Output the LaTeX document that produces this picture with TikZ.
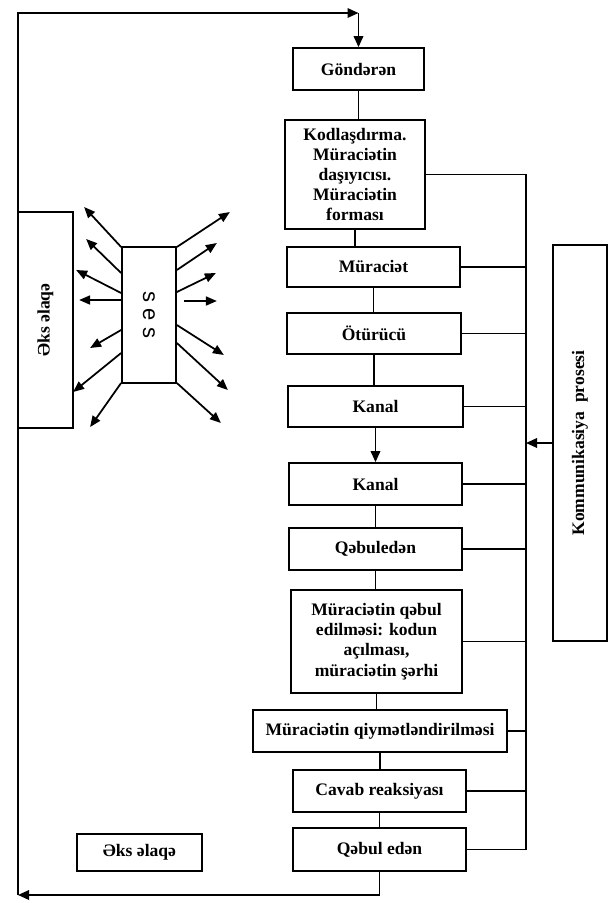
\documentclass[tikz,border=0pt]{standalone}
\usepackage{fontspec}
\setmainfont{Liberation Serif}
\setsansfont{Liberation Sans}
\usetikzlibrary{arrows.meta,calc}

\begin{document}
\begin{tikzpicture}[
  line width=1pt,
  >={Triangle[length=2.2mm,width=1.9mm]},
  box/.style={draw,minimum width=3.46cm,minimum height=.84cm,inner sep=2pt,align=center,font=\fontsize{10}{11.5}\selectfont\bfseries},
  sidebox/.style={box,rotate=90,minimum height=1.08cm},
  link/.style={->},
  ray/.style={-{Triangle[length=2.2mm,width=1.8mm]}}
]
  \useasboundingbox (0,0) rectangle (12.24,-18.06);

  \node[box,minimum width=2.62cm] (gond) at (7.17,-1.38) {Göndərən};
  \node[box,minimum width=2.80cm,minimum height=2.18cm] (kod) at (7.10,-3.49) {Kodlaşdırma.\\Müraciətin\\daşıyıcısı.\\Müraciətin\\forması};
  \node[box,minimum height=.80cm] (mur) at (7.47,-5.34) {Müraciət};
  \node[box,minimum width=3.48cm,minimum height=.82cm] (otur) at (7.48,-6.67) {Ötürücü};
  \node[box,minimum width=3.50cm,minimum height=.82cm] (kan1) at (7.51,-8.13) {Kanal};
  \node[box] (kan2) at (7.51,-9.68) {Kanal};
  \node[box] (qeb) at (7.51,-10.98) {Qəbuledən};
  \node[box,minimum width=3.42cm,minimum height=2.06cm] (acil) at (7.53,-12.83) {Müraciətin qəbul\\edilməsi: kodun\\açılması,\\müraciətin şərhi};
  \node[box,minimum width=5.08cm] (qiym) at (7.60,-14.62) {Müraciətin qiymətləndirilməsi};
  \node[box] (cav) at (7.59,-15.82) {Cavab reaksiyası};
  \node[box,minimum height=.86cm] (qedn) at (7.59,-16.99) {Qəbul edən};
  \node[box,minimum width=2.50cm,minimum height=.74cm] (eks) at (2.79,-17.05) {Əks əlaqə};

  \node[sidebox,minimum width=4.32cm,minimum height=1.10cm] (eksv) at (0.91,-6.40) {Əks əlaqə};
  \node[sidebox,minimum width=7.92cm] (kom) at (11.60,-8.86) {Kommunikasiya\ \ prosesi};
  \node[box,rotate=-90,minimum width=2.72cm,minimum height=1.08cm,font=\sffamily\fontsize{12.5}{14}\selectfont] (ses) at (2.98,-6.30) {s e s};

  \coordinate (bus) at (10.52,-3.49);
  \coordinate (top) at (0.36,-0.26);
  \coordinate (bot) at (0.36,-17.90);

  \foreach \a/\b in {gond/kod,kod/mur,mur/otur,otur/kan1,kan2/qeb,qeb/acil,acil/qiym,qiym/cav,cav/qedn}
    \draw (\a.south) -- (\a.south |- \b.north);
  \draw[link] (kan1) -- (kan2);

  \draw (kod.east) -| (bus |- qedn.east) -- (qedn.east);
  \foreach \n in {mur,otur,kan1,kan2,qeb,acil,qiym,cav}
    \draw (\n.east) -- (\n.east -| bus);
  \draw[link] (kom.north) -- (kom.north -| bus);

  \draw[link] (qedn.south) |- (bot);
  \draw[link] (bot) -- (top) -- (gond.north |- top);
  \draw[link] (gond.north |- top) -- (gond.north);

  \foreach \y/\dx/\dy in {1.36/-0.74/0.80,0.84/-0.70/0.68,0.44/-0.90/0.46,0.30/-0.84/0,-0.30/-0.62/-0.36,-0.76/-0.96/-0.78,-1.36/-0.62/-0.88}
    \draw[ray] ([yshift=\y cm]ses.south) -- ++(\dx,\dy);
  \foreach \x/\y/\dx/\dy in {0/1.36/1.06/0.70,0/0.90/0.80/0.54,0/0.46/0.78/0.38,0.14/0.28/0.66/0,0/-0.20/0.94/-0.60,0/-0.56/1.02/-0.94,0/-1.36/0.88/-0.80}
    \draw[ray] ([xshift=\x cm,yshift=\y cm]ses.north) -- ++(\dx,\dy);
\end{tikzpicture}
\end{document}
